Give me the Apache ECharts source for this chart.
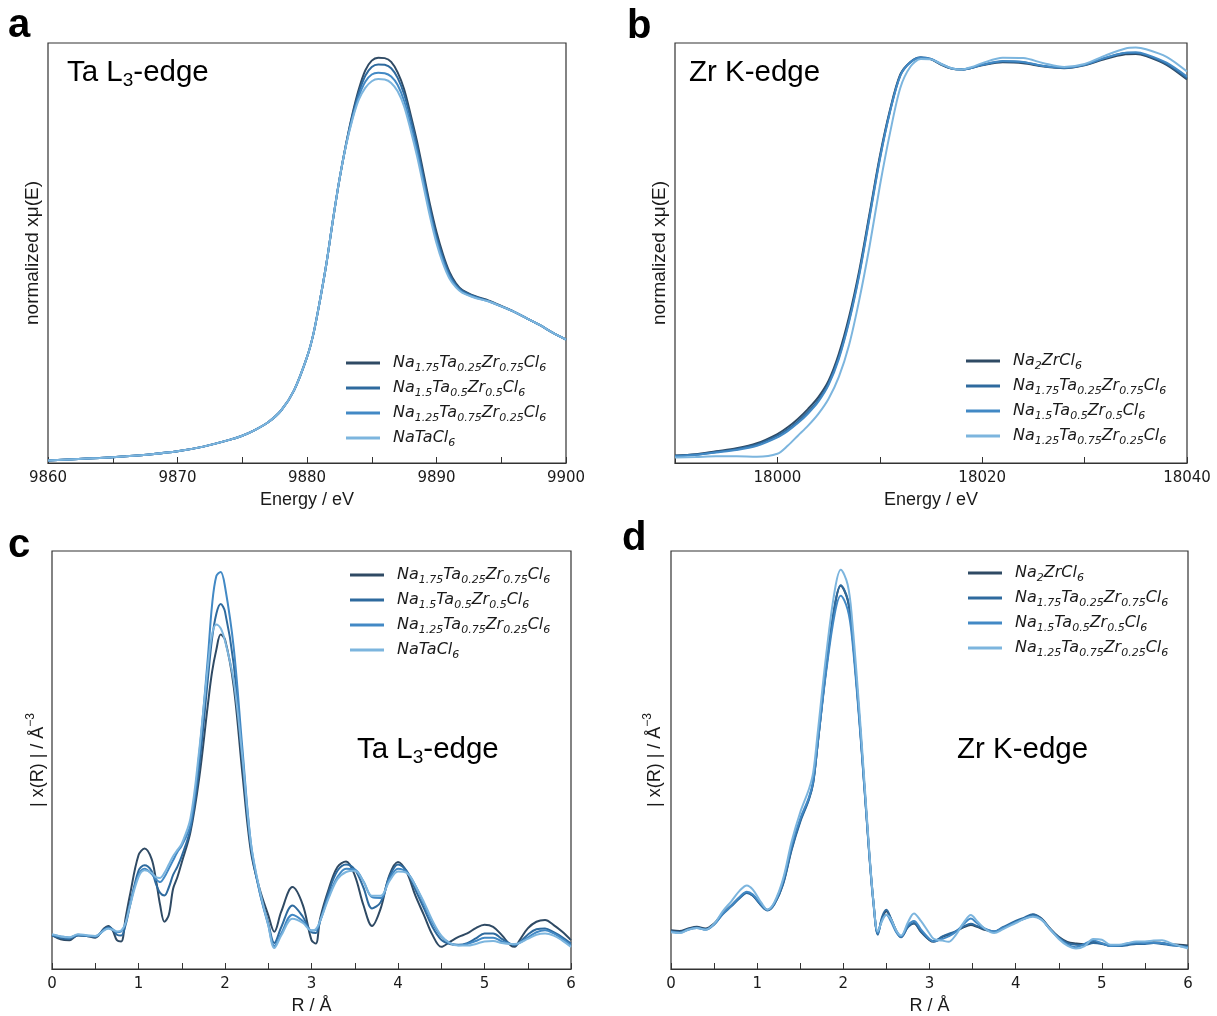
<!DOCTYPE html>
<html><head><meta charset="utf-8">
<script src="https://cdn.jsdelivr.net/npm/echarts@6/dist/echarts.min.js"></script>
<style>html,body{margin:0;padding:0;background:#fff}#c{width:1217px;height:1016px}</style>
</head><body><div id="c"></div>
<script>
// ---------- Panel a : Ta L3-edge XANES ----------
const energyA = [9860,9862,9864,9866,9868,9870,9872,9874,9875,9876,9877,9878,9879,9880,9880.5,9881,9881.5,9882,9882.5,9883,9883.5,9884,9884.5,9885,9885.5,9886,9886.5,9887,9887.5,9888,9888.5,9889,9889.5,9890,9890.5,9891,9891.5,9892,9893,9894,9895,9896,9897,9898,9899,9900];
const muA1 = [.006,.009,.012,.016,.021,.028,.039,.055,.065,.079,.097,.125,.173,.252,.308,.387,.475,.578,.674,.757,.830,.890,.935,.958,.965,.964,.955,.930,.890,.830,.765,.690,.615,.550,.497,.455,.428,.412,.397,.387,.374,.360,.344,.328,.310,.294];
const muA2 = [.006,.009,.012,.016,.021,.028,.039,.055,.065,.079,.097,.125,.173,.252,.308,.387,.475,.578,.674,.756,.826,.882,.922,.943,.949,.948,.940,.917,.878,.820,.755,.680,.605,.540,.490,.450,.424,.410,.396,.386,.373,.360,.344,.328,.310,.294];
const muA3 = [.006,.009,.012,.016,.021,.028,.039,.055,.065,.079,.097,.125,.173,.252,.308,.387,.475,.578,.674,.755,.820,.873,.908,.925,.929,.928,.920,.900,.862,.805,.742,.668,.595,.531,.482,.444,.421,.407,.394,.385,.373,.360,.344,.328,.310,.294];
const muA4 = [.006,.009,.012,.016,.021,.028,.039,.055,.065,.079,.097,.125,.173,.252,.308,.387,.475,.578,.674,.754,.817,.865,.893,.909,.914,.913,.905,.885,.849,.793,.730,.658,.586,.523,.475,.439,.418,.405,.393,.385,.373,.360,.344,.328,.310,.294];
const namesA = ['Na_{1.75}Ta_{0.25}Zr_{0.75}Cl_{6}','Na_{1.5}Ta_{0.5}Zr_{0.5}Cl_{6}','Na_{1.25}Ta_{0.75}Zr_{0.25}Cl_{6}','NaTaCl_{6}'];

// ---------- Panel b : Zr K-edge XANES ----------
const energyB = [17990,17992,17994,17996,17998,18000,18001,18002,18003,18004,18005,18006,18007,18008,18009,18010,18011,18012,18013,18014,18015,18016,18017,18018,18019,18020,18022,18024,18026,18028,18030,18032,18034,18035,18036,18038,18040];
const muB1 = [.018,.021,.028,.035,.047,.069,.085,.105,.129,.157,.196,.260,.348,.459,.594,.730,.841,.925,.955,.965,.961,.948,.939,.937,.941,.947,.954,.952,.944,.940,.947,.962,.973,.974,.969,.948,.913];
const muB2 = [.017,.020,.026,.033,.044,.065,.080,.099,.122,.150,.190,.252,.340,.452,.588,.725,.838,.923,.955,.966,.962,.949,.939,.937,.941,.948,.956,.954,.945,.941,.948,.964,.976,.976,.971,.950,.916];
const muB3 = [.016,.019,.025,.031,.041,.061,.076,.095,.118,.146,.186,.248,.336,.448,.584,.722,.836,.922,.954,.965,.962,.950,.940,.937,.941,.948,.957,.955,.945,.941,.948,.965,.977,.978,.973,.953,.920];
const muB4 = [.013,.014,.016,.016,.015,.022,.041,.065,.089,.117,.153,.205,.281,.389,.516,.659,.786,.893,.944,.962,.961,.950,.940,.937,.943,.952,.965,.964,.952,.943,.950,.970,.987,.989,.985,.967,.932];
const namesB = ['Na_{2}ZrCl_{6}','Na_{1.75}Ta_{0.25}Zr_{0.75}Cl_{6}','Na_{1.5}Ta_{0.5}Zr_{0.5}Cl_{6}','Na_{1.25}Ta_{0.75}Zr_{0.25}Cl_{6}'];

// ---------- Panel c : Ta L3-edge FT-EXAFS ----------
const rC = [0,0.1,0.2,0.3,0.4,0.5,0.6,0.65,0.7,0.75,0.8,0.85,0.9,1.0,1.07,1.15,1.2,1.25,1.3,1.35,1.4,1.45,1.5,1.6,1.7,1.8,1.85,1.9,1.95,2.0,2.1,2.2,2.3,2.4,2.5,2.57,2.65,2.78,2.9,3.0,3.05,3.1,3.2,3.3,3.4,3.5,3.6,3.7,3.8,3.9,4.0,4.1,4.2,4.3,4.4,4.5,4.6,4.7,4.8,4.9,5.0,5.1,5.2,5.3,5.35,5.4,5.5,5.6,5.7,5.8,5.9,6.0];
const chiC1 = [0.81,0.71,0.69,0.81,0.79,0.75,0.97,1.03,0.93,0.69,0.66,1.21,1.76,2.72,2.88,2.64,2.16,1.53,1.13,1.29,1.92,2.2,2.55,3.27,4.54,6.29,7.1,7.64,8.0,7.88,6.77,4.7,2.8,1.92,1.29,0.89,1.37,1.96,1.53,0.69,0.61,1.21,1.92,2.44,2.57,2.24,1.53,1.03,1.45,2.24,2.56,2.32,1.76,1.29,0.81,0.53,0.65,0.77,0.85,0.98,1.06,1.01,0.81,0.57,0.53,0.67,0.97,1.13,1.17,1.05,0.89,0.69];
const chiC2 = [0.80,0.74,0.72,0.80,0.79,0.77,0.95,1.0,0.95,0.82,0.80,1.05,1.5,2.35,2.48,2.35,2.05,1.82,1.76,1.95,2.25,2.45,2.7,3.35,4.8,6.9,7.9,8.5,8.73,8.55,7.3,5.0,2.9,1.85,1.1,0.62,1.0,1.52,1.25,0.88,0.86,1.15,1.85,2.35,2.5,2.38,1.95,1.45,1.6,2.2,2.5,2.35,1.9,1.45,1.0,0.7,0.6,0.58,0.62,0.73,0.85,0.85,0.72,0.6,0.57,0.63,0.82,0.95,0.97,0.88,0.76,0.61];
const chiC3 = [0.82,0.78,0.75,0.82,0.80,0.78,0.93,0.98,0.95,0.88,0.90,1.1,1.55,2.25,2.4,2.28,2.15,2.08,2.2,2.4,2.6,2.8,2.95,3.45,5.1,7.4,8.7,9.4,9.5,9.15,7.7,5.3,3.0,1.85,1.05,0.55,0.85,1.3,1.15,0.92,0.93,1.15,1.75,2.2,2.4,2.38,2.1,1.72,1.7,2.15,2.4,2.32,2.0,1.55,1.1,0.78,0.62,0.57,0.6,0.67,0.75,0.75,0.66,0.6,0.58,0.62,0.75,0.88,0.93,0.85,0.72,0.56];
const chiC4 = [0.83,0.78,0.76,0.83,0.81,0.79,0.92,0.96,0.94,0.9,0.92,1.1,1.5,2.2,2.36,2.3,2.2,2.18,2.3,2.5,2.7,2.85,3.0,3.6,5.2,7.2,8.0,8.24,8.15,7.85,6.9,5.1,3.0,1.9,1.05,0.5,0.8,1.2,1.1,0.92,0.95,1.15,1.7,2.15,2.32,2.35,2.1,1.75,1.75,2.1,2.33,2.3,2.0,1.6,1.15,0.8,0.62,0.56,0.56,0.6,0.66,0.67,0.62,0.6,0.6,0.62,0.72,0.82,0.85,0.8,0.68,0.53];
const namesC = namesA;

// ---------- Panel d : Zr K-edge FT-EXAFS ----------
const rD = [0,0.1,0.2,0.3,0.4,0.5,0.6,0.7,0.8,0.88,0.95,1.05,1.12,1.2,1.3,1.4,1.5,1.6,1.65,1.7,1.8,1.9,1.97,2.05,2.1,2.2,2.3,2.35,2.4,2.45,2.5,2.55,2.62,2.67,2.75,2.82,2.9,3.0,3.05,3.15,3.22,3.3,3.4,3.48,3.55,3.65,3.75,3.85,4.0,4.1,4.2,4.3,4.4,4.5,4.6,4.7,4.8,4.9,5.0,5.1,5.2,5.3,5.4,5.5,5.6,5.7,5.8,5.9,6.0];
const chiD1 = [0.93,0.91,0.97,1.01,0.97,1.09,1.33,1.52,1.72,1.83,1.76,1.52,1.41,1.56,2.04,2.88,3.55,4.07,4.46,5.34,7.16,8.67,9.17,8.83,8.12,5.65,2.80,1.60,0.85,1.21,1.38,1.21,0.89,0.77,1.01,1.09,0.89,0.69,0.65,0.77,0.82,0.89,1.0,1.05,1.01,0.93,0.89,0.98,1.13,1.21,1.30,1.21,0.97,0.77,0.65,0.61,0.59,0.65,0.61,0.56,0.57,0.59,0.61,0.62,0.64,0.62,0.59,0.58,0.56];
const chiD2 = [0.90,0.88,0.95,0.99,0.95,1.07,1.31,1.50,1.70,1.82,1.75,1.51,1.40,1.55,2.02,2.85,3.52,4.05,4.45,5.35,7.2,8.7,9.18,8.85,8.1,5.6,2.75,1.55,0.82,1.25,1.42,1.22,0.88,0.76,1.0,1.1,0.9,0.7,0.67,0.78,0.84,0.9,1.02,1.08,1.03,0.95,0.9,1.0,1.15,1.23,1.31,1.2,0.95,0.75,0.62,0.58,0.57,0.62,0.6,0.55,0.55,0.57,0.6,0.6,0.62,0.6,0.57,0.55,0.53];
const chiD3 = [0.90,0.87,0.94,0.98,0.94,1.06,1.32,1.52,1.73,1.85,1.78,1.54,1.42,1.58,2.1,2.95,3.6,4.1,4.5,5.35,7.1,8.5,8.93,8.6,7.95,5.55,2.78,1.58,0.86,1.18,1.3,1.15,0.86,0.78,1.05,1.15,0.95,0.72,0.66,0.72,0.78,0.88,1.08,1.21,1.1,0.96,0.9,0.98,1.12,1.2,1.27,1.18,0.95,0.74,0.58,0.52,0.6,0.68,0.62,0.55,0.56,0.6,0.63,0.62,0.63,0.62,0.58,0.55,0.52];
const chiD4 = [0.88,0.86,0.94,0.98,0.94,1.08,1.38,1.62,1.88,2.0,1.9,1.58,1.42,1.6,2.15,3.05,3.75,4.3,4.7,5.6,7.5,9.05,9.55,9.2,8.4,5.8,2.85,1.6,0.9,1.15,1.3,1.2,0.9,0.8,1.12,1.33,1.15,0.85,0.72,0.68,0.65,0.8,1.12,1.29,1.15,0.95,0.86,0.95,1.1,1.2,1.25,1.18,0.95,0.72,0.56,0.49,0.55,0.72,0.7,0.58,0.58,0.62,0.66,0.66,0.68,0.69,0.62,0.55,0.49];
const namesD = namesB;

const xTicksA = {min: 9860, max: 9900, interval: 5};
const xTicksB = {min: 17990, max: 18040, interval: 10};
const xTicksR = {min: 0, max: 6, interval: 0.5};

// ---------- styling ----------
const colors = ['#2f4a64', '#2e6a9e', '#4289c5', '#7cb5de'];
const frameColor = '#333';
const txt = '#1a1a1a';
const sansFont = 'Liberation Sans, Arial, sans-serif';
const tickFont = 'DejaVu Sans, sans-serif';

function zip(xs, ys) { return xs.map((x, i) => [x, ys[i]]); }
function richFormula(str) {
  const parts = str.split(/(_\{[^}]*\})/);
  let out = '{g|}';
  parts.forEach(p => {
    if (!p) return;
    if (p.startsWith('_{')) out += '{s|' + p.slice(2, -1) + '}';
    else out += '{i|' + p + '}';
  });
  return out;
}
const legendRich = {
  g: {width: 8},
  i: {fontSize: 16, fontStyle: 'italic', fontFamily: 'DejaVu Sans', color: txt, lineHeight: 22, verticalAlign: 'middle'},
  s: {fontSize: 11, fontStyle: 'italic', fontFamily: 'DejaVu Sans', color: txt, lineHeight: 8, verticalAlign: 'bottom'}
};

const grids = [
  {left: 48, top: 43, width: 518, height: 420},
  {left: 675, top: 43, width: 512, height: 420},
  {left: 52, top: 551, width: 519, height: 420},
  {left: 671, top: 551, width: 517, height: 420}
].map(g => Object.assign(g, {show: true, borderColor: frameColor, borderWidth: 1.2, containLabel: false}));

function xAxis(idx, ticks, name, fmt) {
  return Object.assign({
    type: 'value', gridIndex: idx, name: name, nameLocation: 'middle', nameGap: 28,
    nameTextStyle: {fontSize: 18, fontFamily: sansFont, color: txt},
    axisLine: {show: true, lineStyle: {color: frameColor, width: 1.2}},
    axisTick: {show: true, inside: true, length: 6, lineStyle: {color: frameColor, width: 1}},
    axisLabel: {fontSize: 15, fontFamily: tickFont, color: txt, margin: 8, formatter: fmt, showMinLabel: true, showMaxLabel: true},
    splitLine: {show: false}
  }, ticks);
}
function yAxis(idx, max, name, gap, rich) {
  const a = {
    type: 'value', gridIndex: idx, min: 0, max: max, name: name, nameLocation: 'middle', nameRotate: 90, nameGap: gap,
    nameTextStyle: {fontSize: 19, fontFamily: sansFont, color: txt},
    axisLine: {show: false}, axisTick: {show: false}, axisLabel: {show: false}, splitLine: {show: false}
  };
  if (rich) a.nameTextStyle.rich = rich;
  return a;
}

const fmtA = v => (Math.round(v) % 10 === 0 ? String(v) : '');
const fmtB = v => ((Math.round(v) - 18000) % 20 === 0 ? String(v) : '');
const fmtR = v => (Math.abs(v - Math.round(v)) < 1e-6 ? String(Math.round(v)) : '');

const chiRich = {
  n: {fontSize: 18, fontFamily: sansFont, color: txt, lineHeight: 26, verticalAlign: 'middle'},
  p: {fontSize: 12, fontFamily: sansFont, color: txt, lineHeight: 12, verticalAlign: 'top'}
};

const panels = [
  {ids: ['a1','a2','a3','a4'], names: namesA, xs: energyA, ys: [muA1, muA2, muA3, muA4]},
  {ids: ['b1','b2','b3','b4'], names: namesB, xs: energyB, ys: [muB1, muB2, muB3, muB4]},
  {ids: ['c1','c2','c3','c4'], names: namesC, xs: rC, ys: [chiC1, chiC2, chiC3, chiC4]},
  {ids: ['d1','d2','d3','d4'], names: namesD, xs: rD, ys: [chiD1, chiD2, chiD3, chiD4]}
];
const labelMap = {};
const series = [];
panels.forEach((p, pi) => {
  p.ids.forEach((id, k) => {
    labelMap[id] = p.names[k];
    series.push({
      name: id, type: 'line', xAxisIndex: pi, yAxisIndex: pi,
      data: zip(p.xs, p.ys[k]), symbol: 'none', showSymbol: false,
      smooth: pi < 2 ? 0.3 : 0.35,
      lineStyle: {width: 2, color: colors[k]}, itemStyle: {color: colors[k]},
      z: 2 + k
    });
  });
});

const legendPos = [[346, 355], [966, 353], [350, 567], [968, 565]];
const legends = panels.map((p, pi) => ({
  data: p.ids.map(id => ({name: id, icon: 'rect'})), orient: 'vertical', left: legendPos[pi][0], top: legendPos[pi][1],
  itemWidth: 34, itemHeight: 3, itemGap: 6, selectedMode: false, padding: 0,
  formatter: name => richFormula(labelMap[name]),
  textStyle: {rich: legendRich}
}));

function panelLabel(text, left, top) {
  return {type: 'text', left: left, top: top, style: {text: text, font: 'bold 40px Liberation Sans, Arial, sans-serif', fill: '#000'}};
}
function edgeLabel(main, sub, rest, left, top) {
  const t = sub ? '{t|' + main + '}{s|' + sub + '}{t|' + rest + '}' : '{t|' + main + '}';
  return {type: 'text', left: left, top: top, style: {
    text: t,
    rich: {
      t: {fontSize: 29.5, fontFamily: sansFont, fill: '#000', lineHeight: 34, verticalAlign: 'middle'},
      s: {fontSize: 19, fontFamily: sansFont, fill: '#000', lineHeight: 14, verticalAlign: 'bottom'}
    }
  }};
}

const option = {
  animation: false,
  backgroundColor: '#fff',
  grid: grids,
  xAxis: [
    xAxis(0, xTicksA, 'Energy / eV', fmtA),
    xAxis(1, xTicksB, 'Energy / eV', fmtB),
    xAxis(2, xTicksR, 'R / Å', fmtR),
    xAxis(3, xTicksR, 'R / Å', fmtR)
  ],
  yAxis: [
    yAxis(0, 1, 'normalized xμ(E)', 6),
    yAxis(1, 1, 'normalized xμ(E)', 6),
    yAxis(2, 10, '{n|| x(R) | / Å}{p|−3}', 1, chiRich),
    yAxis(3, 10, '{n|| x(R) | / Å}{p|−3}', 3, chiRich)
  ],
  legend: legends,
  series: series,
  graphic: [
    panelLabel('a', 8, 6), panelLabel('b', 627, 7), panelLabel('c', 8, 526), panelLabel('d', 622, 519),
    edgeLabel('Ta L', '3', '-edge', 67, 58),
    edgeLabel('Zr K-edge', '', '', 689, 58),
    edgeLabel('Ta L', '3', '-edge', 357, 735),
    edgeLabel('Zr K-edge', '', '', 957, 735)
  ]
};
const chart = echarts.init(document.getElementById('c'));
chart.setOption(option);
</script></body></html>
